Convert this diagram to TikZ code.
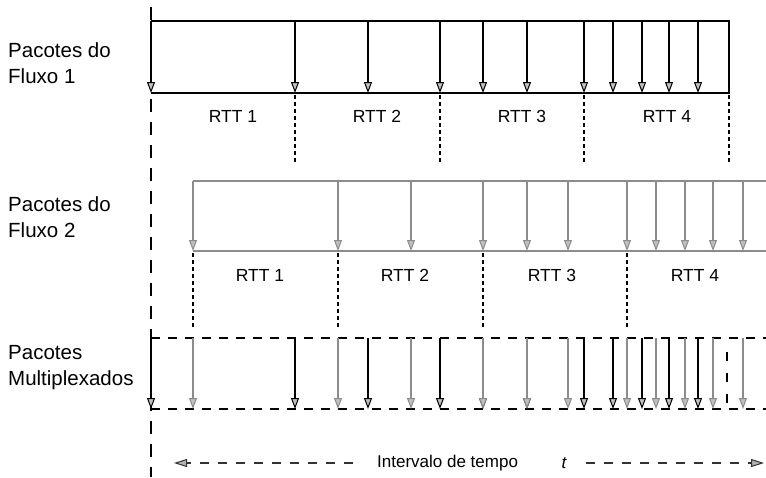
\documentclass[tikz,border=0pt]{standalone}
\usepackage{fontspec}
\setmainfont{Liberation Sans}
\usetikzlibrary{arrows.meta}
\begin{document}
\begin{tikzpicture}[x=1pt,y=-1pt,
  f1/.style={black, line width=1.2pt},
  f2/.style={black!45, line width=1.2pt},
  pk/.style={-{Triangle[length=11pt,width=8pt,line width=1pt,fill=black!25]}},
  axis/.style={black, line width=1.3pt, dash pattern=on 13pt off 10pt},
  bnd/.style={black, line width=1.2pt, dash pattern=on 4pt off 3pt},
  mux/.style={black, line width=1.1pt, dash pattern=on 9pt off 8pt},
  tline/.style={black!80, line width=1.1pt, dash pattern=on 9pt off 9pt, -{Triangle[length=13pt,width=8pt,line width=1pt,fill=black!30]}},
  lbl/.style={font=\fontsize{20.5}{26}\selectfont, align=left, anchor=west, inner sep=0pt},
  rtt/.style={font=\fontsize{17.5}{20}\selectfont, inner sep=0pt},
]
\useasboundingbox (0,0) rectangle (766,477);

% labels
\node[lbl] (l1) at (8,63) {Pacotes do\\Fluxo 1};
\node[lbl] (l2) at (8,217) {Pacotes do\\Fluxo 2};
\node[lbl] (l3) at (8,368) {Pacotes\\Multiplexados};

% main time axis
\coordinate (axT) at (151,7);
\coordinate (axB) at (151,477);
\draw[axis] (axT) -- (axB);

% ---------- Flow 1 ----------
\coordinate (f1TL) at (151,21); \coordinate (f1TR) at (729,21);
\coordinate (f1BL) at (151,93); \coordinate (f1BR) at (729,93);
\draw[f1] (f1TL) -- (f1TR) -- (f1BR) -- (f1BL);
\foreach \x [count=\i] in {151,295,368,440,483,527,584,613,642,669,698}{
  \coordinate (f1t\i) at (\x,21); \coordinate (f1b\i) at (\x,93);
  \draw[f1,pk] (f1t\i) -- (f1b\i);
}
\foreach \x [count=\i] in {295,440,584,729}{
  \coordinate (b1t\i) at (\x,95); \coordinate (b1b\i) at (\x,164);
  \draw[bnd] (b1t\i) -- (b1b\i);
}
\node[rtt] (r11) at (233,116) {RTT 1};
\node[rtt] (r12) at (377,116) {RTT 2};
\node[rtt] (r13) at (522,116) {RTT 3};
\node[rtt] (r14) at (667,116) {RTT 4};

% ---------- Flow 2 ----------
\coordinate (f2TL) at (193,181); \coordinate (f2TR) at (766,181);
\coordinate (f2BL) at (193,251); \coordinate (f2BR) at (766,251);
\draw[f2] (f2TL) -- (f2TR);
\draw[f2] (f2BL) -- (f2BR);
\foreach \x [count=\i] in {193,338,411,483,527,568,627,656,685,713,743}{
  \coordinate (f2t\i) at (\x,181); \coordinate (f2b\i) at (\x,251);
  \draw[f2,pk] (f2t\i) -- (f2b\i);
}
\foreach \x [count=\i] in {193,338,483,627}{
  \coordinate (b2t\i) at (\x,253); \coordinate (b2b\i) at (\x,329);
  \draw[bnd] (b2t\i) -- (b2b\i);
}
\node[rtt] (r21) at (260,275) {RTT 1};
\node[rtt] (r22) at (405,275) {RTT 2};
\node[rtt] (r23) at (552,275) {RTT 3};
\node[rtt] (r24) at (695,275) {RTT 4};

% ---------- Multiplexed ----------
\coordinate (mTL) at (151,338); \coordinate (mTR) at (766,338);
\coordinate (mBL) at (151,409); \coordinate (mBR) at (766,409);
\draw[mux] (mTL) -- (mTR);
\draw[mux] (mBL) -- (mBR);
\foreach \x [count=\i] in {151,295,368,440,483,527,584,613,642,669,698}{
  \coordinate (m1t\i) at (\x,338); \coordinate (m1b\i) at (\x,409);
  \draw[f1,pk] (m1t\i) -- (m1b\i);
}
\foreach \x [count=\i] in {193,338,411,483,527,568,627,656,685,713,743}{
  \coordinate (m2t\i) at (\x,338); \coordinate (m2b\i) at (\x,409);
  \draw[f2,pk] (m2t\i) -- (m2b\i);
}
\coordinate (mdT) at (727,352); \coordinate (mdB) at (727,404);
\draw[black, line width=1.2pt, dash pattern=on 9pt off 12pt] (mdT) -- (mdB);

% ---------- time interval ----------
\node[font=\fontsize{17}{20}\selectfont, anchor=west, inner sep=0pt] (iv) at (377,463) {Intervalo de tempo};
\node[font=\fontsize{17}{20}\selectfont\itshape, inner sep=0pt] (tt) at (564,463) {t};
\coordinate (tL) at (174,463);
\coordinate (tR) at (764,463);
\draw[tline] ([xshift=-24pt]iv.west) -- (tL);
\draw[tline] ([xshift=19pt]tt.east) -- (tR);
\end{tikzpicture}
\end{document}
